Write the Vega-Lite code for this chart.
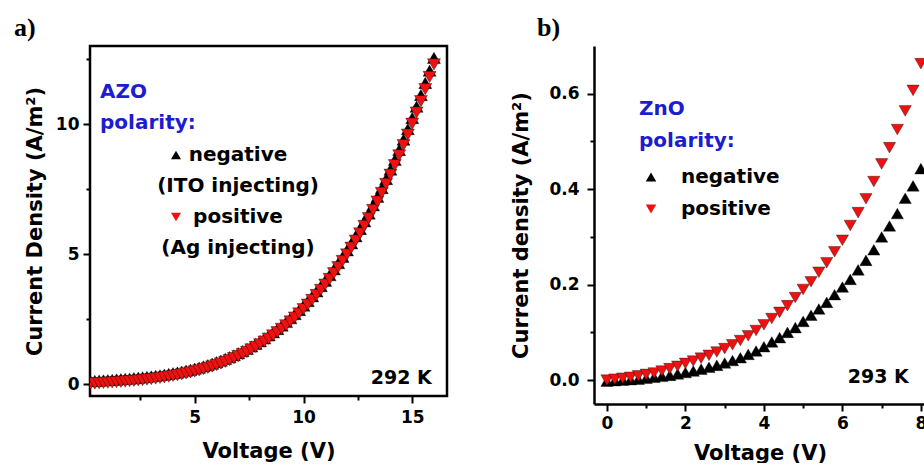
{
 "$schema": "https://vega.github.io/schema/vega-lite/v6.json",
 "padding": {"left": 12, "top": 13, "right": 0, "bottom": 0},
 "background": "white",
 "bounds": "flush",
 "spacing": 147,
 "resolve": {"scale": {"color": "independent", "shape": "independent"}, "legend": {"color": "independent", "shape": "independent"}},
 "config": {
  "font": "DejaVu Sans",
  "style": {"guide-label": {"lineHeight": 31}},
  "axis": {"labelFont": "DejaVu Sans", "labelFontSize": 17, "labelFontWeight": "bold", "labelColor": "#000", "titleFont": "DejaVu Sans", "titleFontSize": 21, "titleFontWeight": "bold", "titleColor": "#000", "tickColor": "#000", "tickWidth": 2, "grid": false, "domainColor": "#000", "domainWidth": 2.5, "labelOverlap": false, "labelFlush": false, "labelBound": false},
  "title": {"font": "Liberation Serif", "fontSize": 26, "fontWeight": "bold", "color": "#000", "anchor": "start", "frame": "group", "baseline": "alphabetic"}
 },
 "datasets": {
  "azo": [
   {"V":0.2,"J":0.110,"polarity":"negative"},{"V":0.4,"J":0.120,"polarity":"negative"},{"V":0.6,"J":0.130,"polarity":"negative"},{"V":0.8,"J":0.141,"polarity":"negative"},{"V":1.0,"J":0.152,"polarity":"negative"},{"V":1.2,"J":0.163,"polarity":"negative"},{"V":1.4,"J":0.174,"polarity":"negative"},{"V":1.6,"J":0.186,"polarity":"negative"},{"V":1.8,"J":0.199,"polarity":"negative"},{"V":2.0,"J":0.212,"polarity":"negative"},
   {"V":2.2,"J":0.227,"polarity":"negative"},{"V":2.4,"J":0.242,"polarity":"negative"},{"V":2.6,"J":0.258,"polarity":"negative"},{"V":2.8,"J":0.275,"polarity":"negative"},{"V":3.0,"J":0.294,"polarity":"negative"},{"V":3.2,"J":0.315,"polarity":"negative"},{"V":3.4,"J":0.337,"polarity":"negative"},{"V":3.6,"J":0.361,"polarity":"negative"},{"V":3.8,"J":0.386,"polarity":"negative"},{"V":4.0,"J":0.415,"polarity":"negative"},
   {"V":4.2,"J":0.444,"polarity":"negative"},{"V":4.4,"J":0.476,"polarity":"negative"},{"V":4.6,"J":0.512,"polarity":"negative"},{"V":4.8,"J":0.549,"polarity":"negative"},{"V":5.0,"J":0.589,"polarity":"negative"},{"V":5.2,"J":0.632,"polarity":"negative"},{"V":5.4,"J":0.679,"polarity":"negative"},{"V":5.6,"J":0.728,"polarity":"negative"},{"V":5.8,"J":0.782,"polarity":"negative"},{"V":6.0,"J":0.839,"polarity":"negative"},
   {"V":6.2,"J":0.899,"polarity":"negative"},{"V":6.4,"J":0.964,"polarity":"negative"},{"V":6.6,"J":1.033,"polarity":"negative"},{"V":6.8,"J":1.106,"polarity":"negative"},{"V":7.0,"J":1.184,"polarity":"negative"},{"V":7.2,"J":1.266,"polarity":"negative"},{"V":7.4,"J":1.353,"polarity":"negative"},{"V":7.6,"J":1.445,"polarity":"negative"},{"V":7.8,"J":1.543,"polarity":"negative"},{"V":8.0,"J":1.645,"polarity":"negative"},
   {"V":8.2,"J":1.755,"polarity":"negative"},{"V":8.4,"J":1.869,"polarity":"negative"},{"V":8.6,"J":1.989,"polarity":"negative"},{"V":8.8,"J":2.116,"polarity":"negative"},{"V":9.0,"J":2.248,"polarity":"negative"},{"V":9.2,"J":2.387,"polarity":"negative"},{"V":9.4,"J":2.534,"polarity":"negative"},{"V":9.6,"J":2.688,"polarity":"negative"},{"V":9.8,"J":2.848,"polarity":"negative"},{"V":10.0,"J":3.016,"polarity":"negative"},
   {"V":10.2,"J":3.191,"polarity":"negative"},{"V":10.4,"J":3.374,"polarity":"negative"},{"V":10.6,"J":3.565,"polarity":"negative"},{"V":10.8,"J":3.763,"polarity":"negative"},{"V":11.0,"J":3.972,"polarity":"negative"},{"V":11.2,"J":4.188,"polarity":"negative"},{"V":11.4,"J":4.413,"polarity":"negative"},{"V":11.6,"J":4.648,"polarity":"negative"},{"V":11.8,"J":4.891,"polarity":"negative"},{"V":12.0,"J":5.144,"polarity":"negative"},
   {"V":12.2,"J":5.407,"polarity":"negative"},{"V":12.4,"J":5.680,"polarity":"negative"},{"V":12.6,"J":5.963,"polarity":"negative"},{"V":12.8,"J":6.255,"polarity":"negative"},{"V":13.0,"J":6.559,"polarity":"negative"},{"V":13.2,"J":6.873,"polarity":"negative"},{"V":13.4,"J":7.201,"polarity":"negative"},{"V":13.6,"J":7.537,"polarity":"negative"},{"V":13.8,"J":7.885,"polarity":"negative"},{"V":14.0,"J":8.246,"polarity":"negative"},
   {"V":14.2,"J":8.619,"polarity":"negative"},{"V":14.4,"J":9.000,"polarity":"negative"},{"V":14.6,"J":9.397,"polarity":"negative"},{"V":14.8,"J":9.806,"polarity":"negative"},{"V":15.0,"J":10.230,"polarity":"negative"},{"V":15.2,"J":10.665,"polarity":"negative"},{"V":15.4,"J":11.114,"polarity":"negative"},{"V":15.6,"J":11.577,"polarity":"negative"},{"V":15.8,"J":12.051,"polarity":"negative"},{"V":16.0,"J":12.542,"polarity":"negative"},
   {"V":0.2,"J":0.010,"polarity":"positive"},{"V":0.4,"J":0.020,"polarity":"positive"},{"V":0.6,"J":0.030,"polarity":"positive"},{"V":0.8,"J":0.041,"polarity":"positive"},{"V":1.0,"J":0.051,"polarity":"positive"},{"V":1.2,"J":0.062,"polarity":"positive"},{"V":1.4,"J":0.073,"polarity":"positive"},{"V":1.6,"J":0.085,"polarity":"positive"},{"V":1.8,"J":0.098,"polarity":"positive"},{"V":2.0,"J":0.111,"polarity":"positive"},
   {"V":2.2,"J":0.125,"polarity":"positive"},{"V":2.4,"J":0.140,"polarity":"positive"},{"V":2.6,"J":0.156,"polarity":"positive"},{"V":2.8,"J":0.173,"polarity":"positive"},{"V":3.0,"J":0.192,"polarity":"positive"},{"V":3.2,"J":0.212,"polarity":"positive"},{"V":3.4,"J":0.234,"polarity":"positive"},{"V":3.6,"J":0.258,"polarity":"positive"},{"V":3.8,"J":0.283,"polarity":"positive"},{"V":4.0,"J":0.311,"polarity":"positive"},
   {"V":4.2,"J":0.340,"polarity":"positive"},{"V":4.4,"J":0.372,"polarity":"positive"},{"V":4.6,"J":0.407,"polarity":"positive"},{"V":4.8,"J":0.444,"polarity":"positive"},{"V":5.0,"J":0.483,"polarity":"positive"},{"V":5.2,"J":0.526,"polarity":"positive"},{"V":5.4,"J":0.572,"polarity":"positive"},{"V":5.6,"J":0.621,"polarity":"positive"},{"V":5.8,"J":0.674,"polarity":"positive"},{"V":6.0,"J":0.730,"polarity":"positive"},
   {"V":6.2,"J":0.790,"polarity":"positive"},{"V":6.4,"J":0.854,"polarity":"positive"},{"V":6.6,"J":0.922,"polarity":"positive"},{"V":6.8,"J":0.994,"polarity":"positive"},{"V":7.0,"J":1.071,"polarity":"positive"},{"V":7.2,"J":1.152,"polarity":"positive"},{"V":7.4,"J":1.238,"polarity":"positive"},{"V":7.6,"J":1.329,"polarity":"positive"},{"V":7.8,"J":1.426,"polarity":"positive"},{"V":8.0,"J":1.527,"polarity":"positive"},
   {"V":8.2,"J":1.635,"polarity":"positive"},{"V":8.4,"J":1.748,"polarity":"positive"},{"V":8.6,"J":1.867,"polarity":"positive"},{"V":8.8,"J":1.992,"polarity":"positive"},{"V":9.0,"J":2.123,"polarity":"positive"},{"V":9.2,"J":2.260,"polarity":"positive"},{"V":9.4,"J":2.405,"polarity":"positive"},{"V":9.6,"J":2.557,"polarity":"positive"},{"V":9.8,"J":2.715,"polarity":"positive"},{"V":10.0,"J":2.881,"polarity":"positive"},
   {"V":10.2,"J":3.054,"polarity":"positive"},{"V":10.4,"J":3.235,"polarity":"positive"},{"V":10.6,"J":3.424,"polarity":"positive"},{"V":10.8,"J":3.620,"polarity":"positive"},{"V":11.0,"J":3.826,"polarity":"positive"},{"V":11.2,"J":4.040,"polarity":"positive"},{"V":11.4,"J":4.262,"polarity":"positive"},{"V":11.6,"J":4.494,"polarity":"positive"},{"V":11.8,"J":4.734,"polarity":"positive"},{"V":12.0,"J":4.984,"polarity":"positive"},
   {"V":12.2,"J":5.244,"polarity":"positive"},{"V":12.4,"J":5.514,"polarity":"positive"},{"V":12.6,"J":5.793,"polarity":"positive"},{"V":12.8,"J":6.082,"polarity":"positive"},{"V":13.0,"J":6.382,"polarity":"positive"},{"V":13.2,"J":6.693,"polarity":"positive"},{"V":13.4,"J":7.017,"polarity":"positive"},{"V":13.6,"J":7.349,"polarity":"positive"},{"V":13.8,"J":7.693,"polarity":"positive"},{"V":14.0,"J":8.049,"polarity":"positive"},
   {"V":14.2,"J":8.418,"polarity":"positive"},{"V":14.4,"J":8.794,"polarity":"positive"},{"V":14.6,"J":9.187,"polarity":"positive"},{"V":14.8,"J":9.591,"polarity":"positive"},{"V":15.0,"J":10.010,"polarity":"positive"},{"V":15.2,"J":10.440,"polarity":"positive"},{"V":15.4,"J":10.883,"polarity":"positive"},{"V":15.6,"J":11.341,"polarity":"positive"},{"V":15.8,"J":11.809,"polarity":"positive"},{"V":16.0,"J":12.294,"polarity":"positive"}
  ],
  "zno": [
   {"V":0.0,"J":-0.002,"polarity":"negative"},{"V":0.2,"J":-0.001,"polarity":"negative"},{"V":0.4,"J":0.000,"polarity":"negative"},{"V":0.6,"J":0.001,"polarity":"negative"},{"V":0.8,"J":0.002,"polarity":"negative"},{"V":1.0,"J":0.004,"polarity":"negative"},{"V":1.2,"J":0.006,"polarity":"negative"},{"V":1.4,"J":0.008,"polarity":"negative"},{"V":1.6,"J":0.010,"polarity":"negative"},{"V":1.8,"J":0.013,"polarity":"negative"},
   {"V":2.0,"J":0.016,"polarity":"negative"},{"V":2.2,"J":0.019,"polarity":"negative"},{"V":2.4,"J":0.023,"polarity":"negative"},{"V":2.6,"J":0.027,"polarity":"negative"},{"V":2.8,"J":0.031,"polarity":"negative"},{"V":3.0,"J":0.036,"polarity":"negative"},{"V":3.2,"J":0.041,"polarity":"negative"},{"V":3.4,"J":0.047,"polarity":"negative"},{"V":3.6,"J":0.054,"polarity":"negative"},{"V":3.8,"J":0.061,"polarity":"negative"},
   {"V":4.0,"J":0.070,"polarity":"negative"},{"V":4.2,"J":0.080,"polarity":"negative"},{"V":4.4,"J":0.089,"polarity":"negative"},{"V":4.6,"J":0.100,"polarity":"negative"},{"V":4.8,"J":0.110,"polarity":"negative"},{"V":5.0,"J":0.123,"polarity":"negative"},{"V":5.2,"J":0.136,"polarity":"negative"},{"V":5.4,"J":0.149,"polarity":"negative"},{"V":5.6,"J":0.163,"polarity":"negative"},{"V":5.8,"J":0.179,"polarity":"negative"},
   {"V":6.0,"J":0.195,"polarity":"negative"},{"V":6.2,"J":0.211,"polarity":"negative"},{"V":6.4,"J":0.231,"polarity":"negative"},{"V":6.6,"J":0.251,"polarity":"negative"},{"V":6.8,"J":0.273,"polarity":"negative"},{"V":7.0,"J":0.300,"polarity":"negative"},{"V":7.2,"J":0.323,"polarity":"negative"},{"V":7.4,"J":0.349,"polarity":"negative"},{"V":7.6,"J":0.381,"polarity":"negative"},{"V":7.8,"J":0.407,"polarity":"negative"},
   {"V":8.0,"J":0.443,"polarity":"negative"},
   {"V":0.0,"J":0.000,"polarity":"positive"},{"V":0.2,"J":0.002,"polarity":"positive"},{"V":0.4,"J":0.004,"polarity":"positive"},{"V":0.6,"J":0.006,"polarity":"positive"},{"V":0.8,"J":0.009,"polarity":"positive"},{"V":1.0,"J":0.012,"polarity":"positive"},{"V":1.2,"J":0.015,"polarity":"positive"},{"V":1.4,"J":0.019,"polarity":"positive"},{"V":1.6,"J":0.024,"polarity":"positive"},{"V":1.8,"J":0.029,"polarity":"positive"},
   {"V":2.0,"J":0.035,"polarity":"positive"},{"V":2.2,"J":0.040,"polarity":"positive"},{"V":2.4,"J":0.046,"polarity":"positive"},{"V":2.6,"J":0.052,"polarity":"positive"},{"V":2.8,"J":0.059,"polarity":"positive"},{"V":3.0,"J":0.066,"polarity":"positive"},{"V":3.2,"J":0.074,"polarity":"positive"},{"V":3.4,"J":0.083,"polarity":"positive"},{"V":3.6,"J":0.093,"polarity":"positive"},{"V":3.8,"J":0.104,"polarity":"positive"},
   {"V":4.0,"J":0.116,"polarity":"positive"},{"V":4.2,"J":0.129,"polarity":"positive"},{"V":4.4,"J":0.142,"polarity":"positive"},{"V":4.6,"J":0.156,"polarity":"positive"},{"V":4.8,"J":0.173,"polarity":"positive"},{"V":5.0,"J":0.190,"polarity":"positive"},{"V":5.2,"J":0.206,"polarity":"positive"},{"V":5.4,"J":0.226,"polarity":"positive"},{"V":5.6,"J":0.246,"polarity":"positive"},{"V":5.8,"J":0.269,"polarity":"positive"},
   {"V":6.0,"J":0.293,"polarity":"positive"},{"V":6.2,"J":0.324,"polarity":"positive"},{"V":6.4,"J":0.351,"polarity":"positive"},{"V":6.6,"J":0.380,"polarity":"positive"},{"V":6.8,"J":0.416,"polarity":"positive"},{"V":7.0,"J":0.453,"polarity":"positive"},{"V":7.2,"J":0.487,"polarity":"positive"},{"V":7.4,"J":0.525,"polarity":"positive"},{"V":7.6,"J":0.564,"polarity":"positive"},{"V":7.8,"J":0.607,"polarity":"positive"},
   {"V":8.0,"J":0.663,"polarity":"positive"}
  ]
 },
 "hconcat": [
  {
   "width": 357,
   "height": 350,
   "title": {"text": "a)", "dx": -76, "offset": 5},
   "view": {"stroke": "#000", "strokeWidth": 2.5},
   "layer": [
    {
     "data": {"name": "azo"},
     "mark": {"type": "point", "filled": true, "size": 170, "opacity": 1, "clip": true, "stroke": "#000", "strokeWidth": 0.6, "strokeOpacity": 0.6},
     "encoding": {
      "x": {"field": "V", "type": "quantitative", "scale": {"domain": [0.18, 16.6], "nice": false, "zero": false},
            "axis": {"title": "Voltage (V)", "values": [2.5, 5, 7.5, 10, 12.5, 15], "labelExpr": "datum.value % 5 === 0 ? datum.label : ''", "tickSize": {"condition": {"test": "datum.value % 5 === 0", "value": 7}, "value": 4}, "domain": false, "labelPadding": 6, "titlePadding": 15}},
      "y": {"field": "J", "type": "quantitative", "scale": {"domain": [-0.46, 13], "nice": false, "zero": false},
            "axis": {"title": "Current Density (A/m²)", "values": [0, 2.5, 5, 7.5, 10, 12.5], "labelExpr": "datum.value % 5 === 0 ? datum.label : ''", "tickSize": {"condition": {"test": "datum.value % 5 === 0", "value": 7}, "value": 4}, "domain": false, "labelPadding": 4, "titlePadding": 10}},
      "shape": {"field": "polarity", "type": "nominal", "title": ["AZO", "polarity:"], "scale": {"domain": ["negative", "positive"], "range": ["triangle-up", "triangle-down"]},
                "legend": {"orient": "none", "legendX": 10, "legendY": 36, "padding": 0, "title": ["AZO", "polarity:"], "titleColor": "#1c1cd0", "titleFont": "DejaVu Sans", "titleFontSize": 20, "titleFontWeight": "bold", "titleLineHeight": 31, "titlePadding": 12, "titleLimit": 300, "labelFont": "DejaVu Sans", "labelFontSize": 20, "labelFontWeight": "bold", "labelAlign": "center", "labelLimit": 300, "labelExpr": "datum.label === 'negative' ? ['negative', '(ITO injecting)'] : ['positive', '(Ag injecting)']", "symbolOffset": 66, "labelOffset": 52, "symbolSize": 100, "rowPadding": 11, "symbolStrokeWidth": 0,
                           "encode": {"labels": {"update": {"fill": [{"test": "datum.value === 'positive'", "value": "#ee1111"}, {"value": "#000000"}], "lineHeight": {"value": 31}}}}}},
      "color": {"field": "polarity", "type": "nominal", "title": ["AZO", "polarity:"], "scale": {"domain": ["negative", "positive"], "range": ["#000000", "#ee1111"]},
                "legend": {"orient": "none", "legendX": 10, "legendY": 36, "padding": 0, "title": ["AZO", "polarity:"], "titleColor": "#1c1cd0", "titleFont": "DejaVu Sans", "titleFontSize": 20, "titleFontWeight": "bold", "titleLineHeight": 31, "titlePadding": 12, "titleLimit": 300, "labelFont": "DejaVu Sans", "labelFontSize": 20, "labelFontWeight": "bold", "labelAlign": "center", "labelLimit": 300, "labelExpr": "datum.label === 'negative' ? ['negative', '(ITO injecting)'] : ['positive', '(Ag injecting)']", "symbolOffset": 66, "labelOffset": 52, "symbolSize": 100, "rowPadding": 11, "symbolStrokeWidth": 0,
                           "encode": {"labels": {"update": {"fill": [{"test": "datum.value === 'positive'", "value": "#ee1111"}, {"value": "#000000"}], "lineHeight": {"value": 31}}}}}}
     }
    },
    {
     "data": {"values": [{"temperature": "292 K"}]},
     "mark": {"type": "text", "align": "right", "baseline": "alphabetic", "font": "DejaVu Sans", "fontSize": 19, "fontWeight": "bold", "color": "#000"},
     "encoding": {"x": {"datum": 15.9, "type": "quantitative"}, "y": {"datum": 0, "type": "quantitative"}, "text": {"field": "temperature"}}
    }
   ]
  },
  {
   "width": 332,
   "height": 358,
   "title": {"text": "b)", "dx": -57, "offset": 5},
   "view": {"stroke": null},
   "layer": [
    {
     "data": {"name": "zno"},
     "mark": {"type": "point", "filled": true, "size": 150, "opacity": 1, "clip": true, "stroke": "#000", "strokeWidth": 0.6, "strokeOpacity": 0.6},
     "encoding": {
      "x": {"field": "V", "type": "quantitative", "scale": {"domain": [-0.33, 8.13], "nice": false, "zero": false},
            "axis": {"title": "Voltage (V)", "values": [0, 1, 2, 3, 4, 5, 6, 7, 8], "labelExpr": "datum.value % 2 === 0 ? datum.label : ''", "tickSize": {"condition": {"test": "datum.value % 2 === 0", "value": 7}, "value": 4}, "domain": true, "labelPadding": 4, "titlePadding": 11}},
      "y": {"field": "J", "type": "quantitative", "scale": {"domain": [-0.05, 0.7], "nice": false, "zero": false},
            "axis": {"title": "Current density (A/m²)", "values": [0, 0.1, 0.2, 0.3, 0.4, 0.5, 0.6], "labelExpr": "round(datum.value * 10) % 2 === 0 ? format(datum.value, '.1f') : ''", "tickSize": {"condition": {"test": "round(datum.value * 10) % 2 === 0", "value": 7}, "value": 4}, "domain": true, "labelPadding": 8, "titlePadding": 17}},
      "shape": {"field": "polarity", "type": "nominal", "title": ["ZnO", "polarity:"], "scale": {"domain": ["negative", "positive"], "range": ["triangle-up", "triangle-down"]},
                "legend": {"orient": "none", "legendX": 45, "legendY": 53, "padding": 0, "title": ["ZnO", "polarity:"], "titleColor": "#1c1cd0", "titleFont": "DejaVu Sans", "titleFontSize": 20, "titleFontWeight": "bold", "titleLineHeight": 32, "titlePadding": 16, "titleLimit": 300, "labelFont": "DejaVu Sans", "labelFontSize": 20, "labelFontWeight": "bold", "labelLimit": 300, "symbolOffset": 2, "labelOffset": 20, "symbolSize": 110, "rowPadding": 12, "symbolStrokeWidth": 0,
                           "encode": {"labels": {"update": {"fill": [{"test": "datum.value === 'positive'", "value": "#ee1111"}, {"value": "#000000"}]}}}}},
      "color": {"field": "polarity", "type": "nominal", "title": ["ZnO", "polarity:"], "scale": {"domain": ["negative", "positive"], "range": ["#000000", "#ee1111"]},
                "legend": {"orient": "none", "legendX": 45, "legendY": 53, "padding": 0, "title": ["ZnO", "polarity:"], "titleColor": "#1c1cd0", "titleFont": "DejaVu Sans", "titleFontSize": 20, "titleFontWeight": "bold", "titleLineHeight": 32, "titlePadding": 16, "titleLimit": 300, "labelFont": "DejaVu Sans", "labelFontSize": 20, "labelFontWeight": "bold", "labelLimit": 300, "symbolOffset": 2, "labelOffset": 20, "symbolSize": 110, "rowPadding": 12, "symbolStrokeWidth": 0,
                           "encode": {"labels": {"update": {"fill": [{"test": "datum.value === 'positive'", "value": "#ee1111"}, {"value": "#000000"}]}}}}}
     }
    },
    {
     "data": {"values": [{"temperature": "293 K"}]},
     "mark": {"type": "text", "align": "right", "baseline": "alphabetic", "font": "DejaVu Sans", "fontSize": 19, "fontWeight": "bold", "color": "#000"},
     "encoding": {"x": {"datum": 7.69, "type": "quantitative"}, "y": {"datum": -0.005, "type": "quantitative"}, "text": {"field": "temperature"}}
    },
    {
     "mark": {"type": "rule", "color": "#000", "strokeWidth": 2.5},
     "encoding": {"y": {"datum": 0.7, "type": "quantitative"}}
    }
   ]
  }
 ]
}
